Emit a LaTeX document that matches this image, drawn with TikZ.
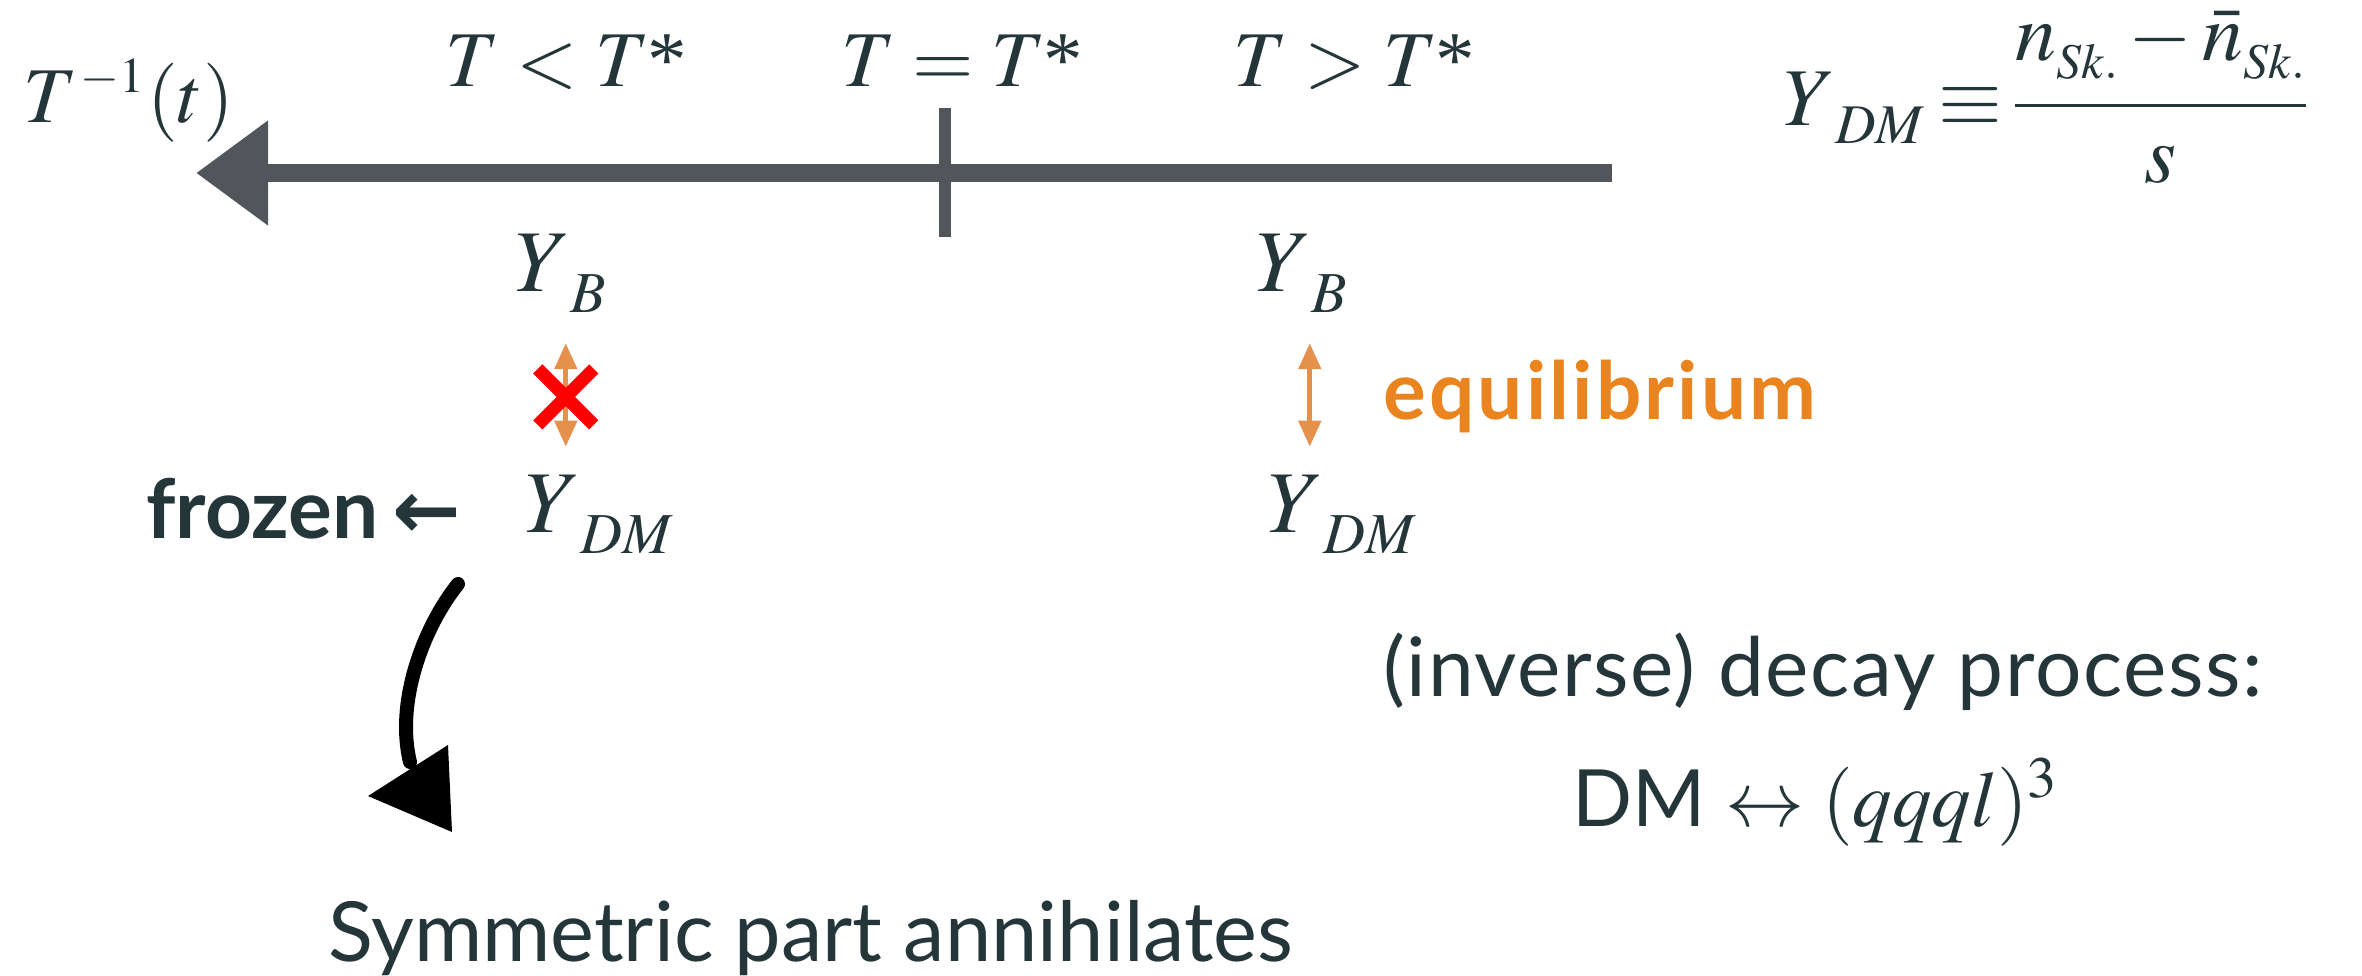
\documentclass[tikz,border=0pt]{standalone}
\usepackage{mathptmx}
\usepackage[no-math]{fontspec}
\setmainfont{Liberation Serif}
\newfontfamily\sansf{Lato}
\newfontfamily\dejavu{DejaVu Sans}
\usetikzlibrary{arrows.meta,calc}
\newcommand\ylab[1]{$Y$\raisebox{-21pt}{\fontsize{58}{60}\selectfont$#1$}}
\newcommand\lowsub[3]{\raisebox{-#1pt}{\fontsize{#2}{#2}\selectfont$#3$}}
\definecolor{ink}{RGB}{36,54,58}
\definecolor{chalk}{RGB}{82,85,89}
\definecolor{eqorange}{RGB}{234,132,30}
\definecolor{arrorange}{RGB}{230,145,75}
\tikzset{
  mth/.style={font=\fontsize{79}{95}\selectfont, text=ink, inner sep=0pt},
  ytxt/.style={font=\fontsize{88}{100}\selectfont, text=ink, inner sep=0pt},
  sanstxt/.style={font=\fontsize{82}{98}\selectfont\sansf\addfontfeatures{LetterSpace=2}, text=ink, inner sep=0pt},
  boldtxt/.style={font=\fontsize{80}{96}\selectfont\sansf\bfseries\addfontfeatures{LetterSpace=4}, inner sep=0pt},
  axisline/.style={draw=chalk, line width=18pt},
  oarr/.style={draw=arrorange, line width=5pt, {Triangle[length=26pt,width=22pt]}-{Triangle[length=26pt,width=22pt]}},
  redx/.style={draw=red, line width=13pt},
  handarrow/.style={draw=black, line width=14pt, line cap=round}
}
\begin{document}
\begin{tikzpicture}[x=1pt,y=-1pt]
\useasboundingbox (0,0) rectangle (2362,976);
% axis
\coordinate (axR) at (1612,173);
\coordinate (axTip) at (196,173);
\coordinate (tkT) at (945,108);
\coordinate (tkB) at (945,237);
\draw[axisline, -{Triangle[length=72pt,width=100pt]}] (axR) -- (axTip);
\draw[axisline, line width=12pt] (tkT) -- (tkB);
% top labels
\node[mth, anchor=base west] (tinv) at (23,123) {$T$\kern3pt\raisebox{30pt}{\fontsize{50}{54}\selectfont$-1$}\kern3pt$(t)$};
\node[mth, anchor=base] (tless) at (566,87) {$T<T$\kern-2pt*};
\node[mth, anchor=base] (teq) at (962,87) {$T=T$\kern-2pt*};
\node[mth, anchor=base] (tgr) at (1354,87) {$T>T$\kern-2pt*};
% Y labels
\node[ytxt, anchor=base west] (ybl) at (515,292) {\ylab{B}};
\node[ytxt, anchor=base west] (ybr) at (1256,292) {\ylab{B}};
\node[ytxt, anchor=base west] (ydl) at (525,532) {\ylab{DM}};
\node[ytxt, anchor=base west] (ydr) at (1268,532) {\ylab{DM}};
% arrows between
\draw[oarr] ($(ybl.south)+(5,30)$) -- ($(ybl.south |- ydl.north)+(5,-28)$);
\draw[oarr] ($(ybr.south)+(8,30)$) -- ($(ybr.south |- ydr.north)+(8,-28)$);
\coordinate (xc) at ($(ybl.south)!0.5!(ybl.south |- ydl.north)+(5,3)$);
\draw[redx] ($(xc)+(-28,-28)$) -- ($(xc)+(28,28)$);
\draw[redx] ($(xc)+(-28,28)$) -- ($(xc)+(28,-28)$);
\node[boldtxt, text=eqorange, anchor=base west] (equil) at (1383,419) {equilibrium};
\node[boldtxt, text=ink, anchor=base west, font=\fontsize{82}{96}\selectfont\sansf\bfseries] (frozen) at (146,538) {frozen\hspace{14pt}{\dejavu\bfseries ←}};
% formula
\node[mth, anchor=base west, font=\fontsize{82}{96}\selectfont] (ydef) at (1783,126) {$Y$\lowsub{18}{56}{DM}\kern14pt$\equiv$\kern12pt$\displaystyle\frac{\raisebox{10pt}{$n$\lowsub{18}{50}{Sk.}\kern10pt$-$\kern10pt$\bar n$\lowsub{18}{50}{Sk.}}}{s}$};
% process
\node[sanstxt, anchor=base west] (proc) at (1383,696) {(inverse) decay process:};
\node[mth, anchor=base] (dm) at (1815,826) {{\sansf DM} $\leftrightarrow(qqql)^3$};
\node[sanstxt, anchor=base west, font=\fontsize{83}{98}\selectfont\sansf] (sym) at (328,961) {Symmetric part annihilates};
% hand drawn arrow
\coordinate (h0) at (458,584);
\coordinate (h1) at (410,762);
\coordinate (hTip) at (368,796);
\coordinate (hA) at (448,745);
\coordinate (hB) at (452,832);
\draw[handarrow] (h0) .. controls (425,625) and (395,700) .. (h1);
\fill[black] (hTip) -- (hA) -- (hB) -- cycle;
\end{tikzpicture}
\end{document}
